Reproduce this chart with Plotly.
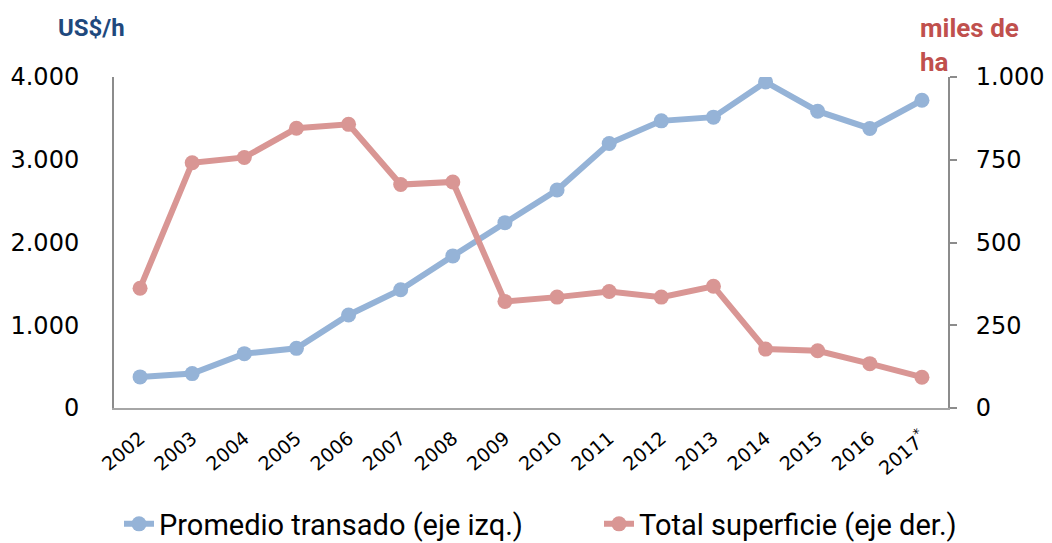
import plotly.graph_objects as go

years = ["2002", "2003", "2004", "2005", "2006", "2007", "2008", "2009",
         "2010", "2011", "2012", "2013", "2014", "2015", "2016", "2017*"]
tick_text = ["2002", "2003", "2004", "2005", "2006", "2007", "2008", "2009",
             "2010", "2011", "2012", "2013", "2014", "2015", "2016", "2017<sup>*</sup>"]
promedio = [376, 416, 657, 721, 1124, 1429, 1838, 2240, 2634, 3197, 3470, 3515,
            3940, 3587, 3378, 3719]
superficie = [362, 741, 757, 845, 857, 675, 683, 322, 335, 352, 335, 368,
              178, 173, 134, 93]

left_ticks = [0, 1000, 2000, 3000, 4000]
left_labels = ["0", "1.000", "2.000", "3.000", "4.000"]
right_ticks = [0, 250, 500, 750, 1000]
right_labels = ["0", "250", "500", "750", "1.000"]

BLUE = "#95B3D7"
RED = "#D99694"
FONT = "DejaVu Sans"
OFF = 8  # page body margin

W, H = 1052, 543
L, R, T, B = 114 - OFF, W - (948 - OFF), 77 - OFF, H - (408.5 - OFF)

fig = go.Figure()
fig.add_trace(go.Scatter(
    x=years, y=promedio, name="Promedio transado (eje izq.)",
    mode="lines+markers", line=dict(color=BLUE, width=6),
    marker=dict(color=BLUE, size=15), yaxis="y", legend="legend"))
fig.add_trace(go.Scatter(
    x=years, y=superficie, name="Total superficie (eje der.)",
    mode="lines+markers", line=dict(color=RED, width=6),
    marker=dict(color=RED, size=15), yaxis="y2", legend="legend2"))

legend_common = dict(orientation="h", xanchor="left", yref="container", xref="container",
                     y=(H - (524 - OFF)) / H, yanchor="middle",
                     font=dict(size=29, family="Roboto"), bgcolor="rgba(0,0,0,0)")

fig.update_layout(
    width=W, height=H,
    margin=dict(l=L, r=R, t=T, b=B, autoexpand=False),
    plot_bgcolor="white", paper_bgcolor="white",
    font=dict(family=FONT, color="black"),
    showlegend=True,
    legend=dict(x=(119 - OFF) / W, **legend_common),
    legend2=dict(x=(599 - OFF) / W, **legend_common),
    xaxis=dict(type="category", categoryorder="array", categoryarray=years,
               tickmode="array", tickvals=years, ticktext=tick_text,
               tickangle=-40, tickfont=dict(size=19),
               showline=True, linecolor="#A6A6A6", linewidth=2,
               showgrid=False, ticks="", range=[-0.5, 15.5], zeroline=False,
               automargin=False, ticklabelstandoff=10),
    yaxis=dict(range=[0, 4000], tickmode="array", tickvals=left_ticks,
               ticktext=left_labels, tickfont=dict(size=24),
               showline=True, linecolor="#8C8C8C", linewidth=2,
               showgrid=False, zeroline=False, ticks="", ticklabelstandoff=28,
               automargin=False),
    yaxis2=dict(range=[0, 1000], overlaying="y", side="right",
                tickmode="array", tickvals=right_ticks, ticktext=right_labels,
                tickfont=dict(size=24), showline=True, linecolor="#8C8C8C",
                linewidth=2, showgrid=False, zeroline=False,
                ticks="outside", ticklen=7, tickcolor="#8C8C8C", tickwidth=2,
                automargin=False, ticklabelstandoff=14),
)

fig.add_annotation(text="<b>US$/h</b>", xref="paper", yref="paper",
                   x=(91 - 114) / 834, y=(408.5 - 28) / 331.8,
                   xanchor="center", yanchor="middle",
                   showarrow=False, font=dict(size=24, color="#1F497D", family="Roboto"))
fig.add_annotation(text="<b>miles de<br>ha</b>", xref="paper", yref="paper",
                   x=(918 - 114) / 834, y=(408.5 - 11) / 331.8,
                   xanchor="left", yanchor="top", align="left",
                   showarrow=False, font=dict(size=26, color="#C0504D", family="Roboto"))

fig.write_html("out.html")
